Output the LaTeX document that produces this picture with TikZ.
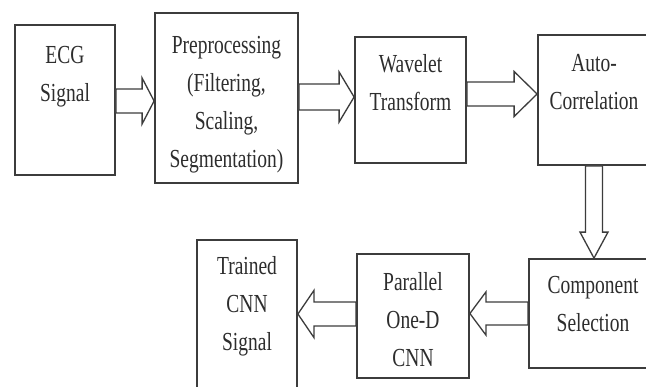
\documentclass[tikz,border=0pt]{standalone}
\usepackage{fontspec}
\setmainfont{Liberation Serif}[FakeStretch=0.75]
\usetikzlibrary{calc,positioning}

\definecolor{boxgray}{RGB}{60,60,60}
\definecolor{textgray}{RGB}{45,45,45}

\tikzset{
  block/.style={draw=boxgray, line width=1.8pt, inner sep=0pt},
  blocktext/.style={anchor=north, align=center, inner sep=0pt, text=textgray,
    font=\fontsize{26}{38}\selectfont},
  arrowline/.style={draw=boxgray, line width=1.3pt, fill=white, line join=miter}
}

% hollow arrow: start, end, shaft half width, head half width, head length
\newcommand{\hollowarrow}[5]{%
  \coordinate (hb) at ($(#2)!#5!(#1)$);
  \draw[arrowline] ($(#1)!#3!90:(#2)$) -- ($(hb)!#3!90:(#2)$) -- ($(hb)!#4!90:(#2)$)
    -- (#2) -- ($(hb)!#4!-90:(#2)$) -- ($(hb)!#3!-90:(#2)$) -- ($(#1)!#3!-90:(#2)$) -- cycle;
}

\begin{document}
\begin{tikzpicture}[x=1pt,y=-1pt]
  \clip (0,0) rectangle (646,386);
  \fill[white] (0,0) rectangle (646,386);
  %blocchi
  \node[block, minimum width=100, minimum height=150] (ecg) at (65,100) {};
  \node[block, minimum width=143, minimum height=170] (pre) at (226.5,98) {};
  \node[block, minimum width=111, minimum height=126] (wav) at (410.5,100) {};
  \node[block, minimum width=112, minimum height=130] (auto) at (594,100) {};
  \node[block, minimum width=128, minimum height=109] (comp) at (593,313.5) {};
  \node[block, minimum width=112, minimum height=124] (par) at (413,316) {};
  \node[block, minimum width=100, minimum height=170] (trn) at (247,325) {};
  %testi
  \node[blocktext, below=22pt of ecg.north] (ecgt) {ECG\\Signal};
  \node[blocktext, below=24pt of pre.north] (pret) {Preprocessing\\(Filtering,\\Scaling,\\Segmentation)};
  \node[blocktext, below=18pt of wav.north] (wavt) {Wavelet\\Transform};
  \node[blocktext, below=20pt of auto.north] (autot) {Auto-\\Correlation};
  \node[blocktext, below=18pt of comp.north] (compt) {Component\\Selection};
  \node[blocktext, below=19pt of par.north] (part) {Parallel\\One-D\\CNN};
  \node[blocktext, below=17pt of trn.north] (trnt) {Trained\\CNN\\Signal};
  %frecce
  \coordinate (a1s) at ($(ecg.east)+(0,1)$);
  \coordinate (a1e) at (a1s -| pre.west);
  \hollowarrow{a1s}{a1e}{12pt}{23pt}{12pt}
  \coordinate (a2s) at ($(pre.east)+(0,-1)$);
  \coordinate (a2e) at (a2s -| wav.west);
  \hollowarrow{a2s}{a2e}{13pt}{25pt}{15pt}
  \coordinate (a3s) at ($(wav.east)+(0,-6)$);
  \coordinate (a3e) at (a3s -| auto.west);
  \hollowarrow{a3s}{a3e}{12pt}{22.5pt}{23pt}
  \coordinate (a4s) at (auto.south);
  \coordinate (a4e) at (a4s |- comp.north);
  \hollowarrow{a4s}{a4e}{8.5pt}{14pt}{26pt}
  \coordinate (a5s) at (comp.west);
  \coordinate (a5e) at (a5s -| par.east);
  \hollowarrow{a5s}{a5e}{11.5pt}{21.5pt}{16pt}
  \coordinate (a6s) at ($(par.west)+(0,-2)$);
  \coordinate (a6e) at (a6s -| trn.east);
  \hollowarrow{a6s}{a6e}{12pt}{23.5pt}{16pt}
\end{tikzpicture}
\end{document}
